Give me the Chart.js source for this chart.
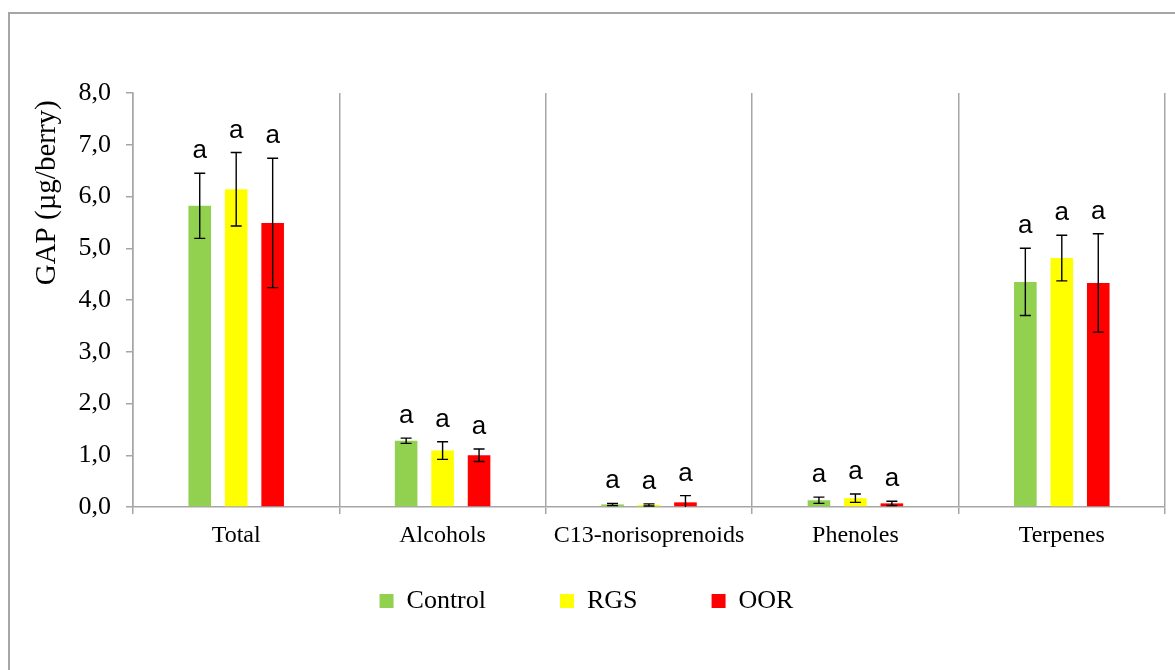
<!DOCTYPE html>
<html>
<head>
<meta charset="utf-8">
<script src="https://cdn.jsdelivr.net/npm/chart.js@4.4.1/dist/chart.umd.min.js"></script>
<style>
  html, body { margin: 0; padding: 0; background: #fff; }
  #wrap { width: 1175px; height: 670px; }
</style>
</head>
<body>
<div id="wrap"><canvas id="chartGap"></canvas></div>
<script>
// Categorías y valores (GAP, µg/berry)
const categories = ["Total", "Alcohols", "C13-norisoprenoids", "Phenoles", "Terpenes"];
const controlValues = [5.82, 1.28, 0.05, 0.13, 4.35];
const controlErrors = [0.63, 0.05, 0.02, 0.06, 0.65];
const rgsValues = [6.14, 1.09, 0.04, 0.17, 4.81];
const rgsErrors = [0.71, 0.17, 0.02, 0.08, 0.44];
const oorValues = [5.49, 1.00, 0.09, 0.07, 4.33];
const oorErrors = [1.25, 0.12, 0.13, 0.04, 0.95];
const letters = ["a", "a", "a", "a", "a"];
const yTicks = [0, 1, 2, 3, 4, 5, 6, 7, 8];

const gridGray = "#a6a6a6";
const serif = "'Liberation Serif', 'Times New Roman', serif";

// marco exterior + barras de error + letras
const extras = {
    id: "extras",
    beforeDraw(chart) {
        const ctx = chart.ctx;
        ctx.save();
        ctx.strokeStyle = gridGray;
        ctx.lineWidth = 2;
        ctx.beginPath();
        ctx.moveTo(9, 670);
        ctx.lineTo(9, 13);
        ctx.lineTo(1175, 13);
        ctx.stroke();
        ctx.restore();
    },
    afterDatasetsDraw(chart) {
        const ctx = chart.ctx;
        const y = chart.scales.y;
        ctx.save();
        chart.data.datasets.forEach((ds, i) => {
            const meta = chart.getDatasetMeta(i);
            meta.data.forEach((bar, j) => {
                const v = ds.data[j];
                const e = ds.errors[j];
                const top = y.getPixelForValue(v + e);
                const bottom = y.getPixelForValue(Math.max(0, v - e));
                ctx.strokeStyle = "#000";
                ctx.lineWidth = 1.4;
                ctx.beginPath();
                ctx.moveTo(bar.x, top);
                ctx.lineTo(bar.x, bottom);
                ctx.moveTo(bar.x - 5.5, top);
                ctx.lineTo(bar.x + 5.5, top);
                if (v - e > 0) {
                    ctx.moveTo(bar.x - 5.5, bottom);
                    ctx.lineTo(bar.x + 5.5, bottom);
                }
                ctx.stroke();
                ctx.fillStyle = "#000";
                ctx.font = "26px 'Liberation Sans Narrow', 'Liberation Sans', sans-serif";
                ctx.textAlign = "center";
                ctx.textBaseline = "alphabetic";
                ctx.fillText(letters[j], bar.x, top - 15);
            });
        });
        ctx.restore();
    }
};

const ctxGap = document.getElementById("chartGap").getContext("2d");
const chartGap = new Chart(ctxGap, {
    type: "bar",
    data: {
        labels: categories,
        datasets: [
            {
                label: "Control",
                data: controlValues,
                errors: controlErrors,
                backgroundColor: "#92d050",
                borderWidth: 0,
            },
            {
                label: "RGS",
                data: rgsValues,
                errors: rgsErrors,
                backgroundColor: "#ffff00",
                borderWidth: 0,
            },
            {
                label: "OOR",
                data: oorValues,
                errors: oorErrors,
                backgroundColor: "#ff0000",
                borderWidth: 0,
            },
        ],
    },
    options: {
        responsive: true,
        maintainAspectRatio: false,
        animation: false,
        categoryPercentage: 0.53,
        barPercentage: 0.62,
        layout: {
            padding: { top: 93, left: 8, right: 10, bottom: 46 },
        },
        plugins: {
            tooltip: { enabled: false },
            legend: {
                position: "bottom",
                labels: {
                    boxWidth: 14,
                    boxHeight: 14,
                    padding: 74,
                    color: "#000",
                    font: { family: serif, size: 26 },
                },
            },
        },
        scales: {
            x: {
                // eje bajo para dejar sitio a la leyenda; etiquetas "mirror" para que no se recorten
                afterFit(scale) { scale.height = 7; },
                grid: {
                    color: gridGray,
                    lineWidth: 1.5,
                    tickLength: 7,
                },
                border: { color: gridGray, width: 1.5 },
                ticks: {
                    color: "#000",
                    mirror: true,
                    padding: -43,
                    font: { family: serif, size: 24 },
                },
            },
            y: {
                min: 0,
                max: 8,
                afterFit(scale) { scale.width = 125; },
                afterBuildTicks(scale) {
                    scale.ticks = yTicks.map(v => ({ value: v }));
                },
                grid: {
                    drawOnChartArea: false,
                    color: gridGray,
                    lineWidth: 1.5,
                    tickLength: 7,
                },
                border: { color: gridGray, width: 1.5 },
                ticks: {
                    color: "#000",
                    padding: 15,
                    font: { family: serif, size: 26 },
                    callback: v => v.toFixed(1).replace(".", ","),
                },
                title: {
                    display: true,
                    text: "GAP (µg/berry) ",
                    align: "end",
                    color: "#000",
                    padding: { top: 22, bottom: 0 },
                    font: { family: serif, size: 29 },
                },
            },
        },
    },
    plugins: [extras],
});
</script>
</body>
</html>
